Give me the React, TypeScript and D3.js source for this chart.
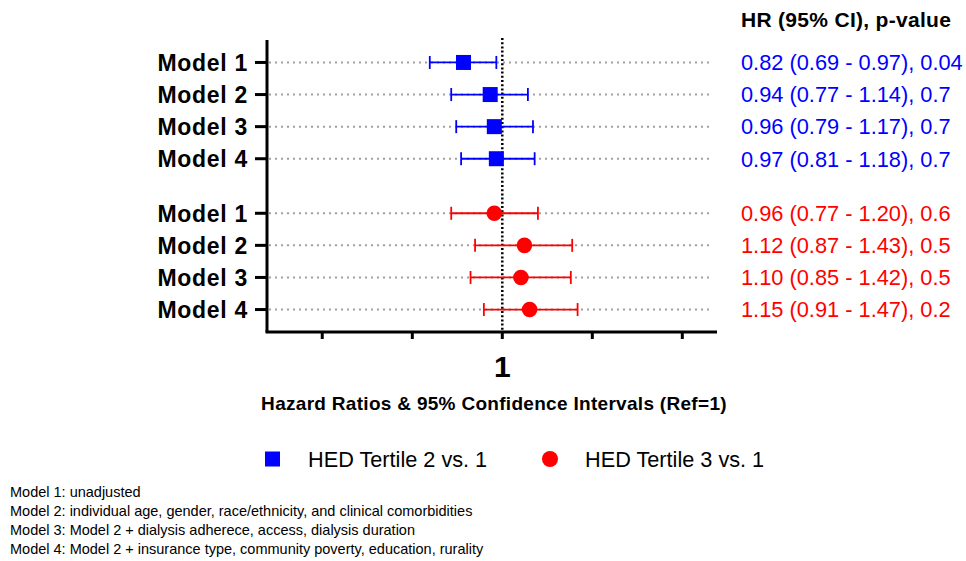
import { useEffect, useRef } from "react"
import * as d3 from "d3"

// Models shown on the y axis
const models = ["Model 1", "Model 2", "Model 3", "Model 4"]

// HED Tertile 2 vs. 1
const t2Hr = [0.82, 0.94, 0.96, 0.97]
const t2Lo = [0.69, 0.77, 0.79, 0.81]
const t2Hi = [0.97, 1.14, 1.17, 1.18]
const t2P = ["0.04", "0.7", "0.7", "0.7"]

// HED Tertile 3 vs. 1
const t3Hr = [0.96, 1.12, 1.1, 1.15]
const t3Lo = [0.77, 0.87, 0.85, 0.91]
const t3Hi = [1.2, 1.43, 1.42, 1.47]
const t3P = ["0.6", "0.5", "0.5", "0.2"]

// row slots (second group sits after a gap)
const t2Rows = [1, 2, 3, 4]
const t3Rows = [5.7, 6.7, 7.7, 8.7]

// x axis (log) ticks, only the reference is labelled
const xTicks = [0.398, 0.631, 1, 1.585, 2.512]
const xDomain = [0.3, 3]

const seriesNames = ["HED Tertile 2 vs. 1", "HED Tertile 3 vs. 1"]
const footnotes = [
  "Model 1: unadjusted",
  "Model 2: individual age, gender, race/ethnicity, and clinical comorbidities",
  "Model 3: Model 2 + dialysis adherece, access, dialysis duration",
  "Model 4: Model 2 + insurance type, community poverty, education, rurality",
]

const BLUE = "#0000ff"
const RED = "#ff0000"
const FONT = "'Liberation Sans', Arial, Helvetica, sans-serif"

export default function App() {
  const svgRef = useRef<SVGSVGElement>(null)

  useEffect(() => {
    const svg = d3.select(svgRef.current)
    svg.selectAll("*").remove()
    svg.attr("width", 966).attr("height", 561).style("font-family", FONT)

    const left = 267, right = 717, top = 40, bottom = 332

    const x = d3.scaleLog().domain(xDomain).range([left, right])
    const y = d3.scaleLinear().domain([0.3, 9.4]).range([top, bottom])

    const series = [
      { hr: t2Hr, lo: t2Lo, hi: t2Hi, p: t2P, rows: t2Rows, color: BLUE, shape: "square" },
      { hr: t3Hr, lo: t3Lo, hi: t3Hi, p: t3P, rows: t3Rows, color: RED, shape: "circle" },
    ]

    // dotted grid lines per row
    const allRows = [...t2Rows, ...t3Rows]
    svg.append("g")
      .selectAll("line")
      .data(allRows)
      .enter()
      .append("line")
      .attr("x1", left + 2).attr("x2", right - 4)
      .attr("y1", d => y(d)).attr("y2", d => y(d))
      .attr("stroke", "#a0a0a0")
      .attr("stroke-width", 2)
      .attr("stroke-dasharray", "2,4")

    // reference line at HR = 1
    svg.append("line")
      .attr("x1", x(1)).attr("x2", x(1))
      .attr("y1", top - 2).attr("y2", bottom)
      .attr("stroke", "#000")
      .attr("stroke-width", 2.5)
      .attr("stroke-dasharray", "2,2.2")

    // y axis
    const yAxis = svg.append("g")
    yAxis.append("line")
      .attr("x1", left).attr("x2", left)
      .attr("y1", top).attr("y2", bottom)
      .attr("stroke", "#000").attr("stroke-width", 3)
    allRows.forEach((r, i) => {
      yAxis.append("line")
        .attr("x1", left - 12).attr("x2", left)
        .attr("y1", y(r)).attr("y2", y(r))
        .attr("stroke", "#000").attr("stroke-width", 3)
      yAxis.append("text")
        .attr("x", left - 19)
        .attr("y", y(r))
        .attr("dy", "0.36em")
        .attr("text-anchor", "end")
        .attr("font-size", 23)
        .attr("font-weight", "bold")
        .attr("letter-spacing", 0.7)
        .attr("fill", "#000")
        .text(models[i % 4])
    })

    // x axis
    const xAxis = svg.append("g")
    xAxis.append("line")
      .attr("x1", left - 1.5).attr("x2", right)
      .attr("y1", bottom).attr("y2", bottom)
      .attr("stroke", "#000").attr("stroke-width", 3)
    xAxis.selectAll(".tick")
      .data(xTicks)
      .enter()
      .append("line")
      .attr("x1", d => x(d)).attr("x2", d => x(d))
      .attr("y1", bottom).attr("y2", bottom + 7)
      .attr("stroke", "#000").attr("stroke-width", 3)
    xAxis.append("text")
      .attr("x", x(1))
      .attr("y", bottom + 45)
      .attr("text-anchor", "middle")
      .attr("font-size", 30)
      .attr("font-weight", "bold")
      .text("1")

    svg.append("text")
      .attr("x", 494)
      .attr("y", 410)
      .attr("text-anchor", "middle")
      .attr("font-size", 19)
      .attr("font-weight", "bold")
      .attr("letter-spacing", 0.3)
      .text("Hazard Ratios & 95% Confidence Intervals (Ref=1)")

    // error bars and markers
    series.forEach(s => {
      const g = svg.append("g")
      s.rows.forEach((r, i) => {
        const cy = y(r)
        g.append("line")
          .attr("x1", x(s.lo[i])).attr("x2", x(s.hi[i]))
          .attr("y1", cy).attr("y2", cy)
          .attr("stroke", s.color).attr("stroke-width", 1.8)
        ;[s.lo[i], s.hi[i]].forEach(v => {
          g.append("line")
            .attr("x1", x(v)).attr("x2", x(v))
            .attr("y1", cy - 6.5).attr("y2", cy + 6.5)
            .attr("stroke", s.color).attr("stroke-width", 1.8)
        })
        if (s.shape === "square") {
          g.append("rect")
            .attr("x", x(s.hr[i]) - 7.5).attr("y", cy - 7.5)
            .attr("width", 15).attr("height", 15)
            .attr("fill", s.color)
        } else {
          g.append("circle")
            .attr("cx", x(s.hr[i])).attr("cy", cy)
            .attr("r", 7.8)
            .attr("fill", s.color)
        }
        // HR text on the right
        svg.append("text")
          .attr("x", 741)
          .attr("y", cy)
          .attr("dy", "0.36em")
          .attr("font-size", 21.8)
          .attr("fill", s.color)
          .text(`${s.hr[i].toFixed(2)} (${s.lo[i].toFixed(2)} - ${s.hi[i].toFixed(2)}), ${s.p[i]}`)
      })
    })

    svg.append("text")
      .attr("x", 741)
      .attr("y", 27)
      .attr("font-size", 21)
      .attr("font-weight", "bold")
      .attr("letter-spacing", 0.3)
      .text("HR (95% CI), p-value")

    // legend
    const legend = svg.append("g")
    legend.append("rect")
      .attr("x", 265).attr("y", 451.5)
      .attr("width", 15).attr("height", 15)
      .attr("fill", BLUE)
    legend.append("text")
      .attr("x", 308).attr("y", 459)
      .attr("dy", "0.36em")
      .attr("font-size", 21.7)
      .text(seriesNames[0])
    legend.append("circle")
      .attr("cx", 550).attr("cy", 459)
      .attr("r", 8)
      .attr("fill", RED)
    legend.append("text")
      .attr("x", 585).attr("y", 459)
      .attr("dy", "0.36em")
      .attr("font-size", 21.7)
      .text(seriesNames[1])

    // footnotes
    svg.append("g")
      .selectAll("text")
      .data(footnotes)
      .enter()
      .append("text")
      .attr("x", 10)
      .attr("y", (d, i) => 497 + i * 19)
      .attr("font-size", 14.5)
      .text(d => d)
  }, [])

  return (
    <div style={{ position: "absolute", left: 0, top: 0, background: "#fff" }}>
      <svg ref={svgRef} style={{ display: "block" }}></svg>
    </div>
  )
}
